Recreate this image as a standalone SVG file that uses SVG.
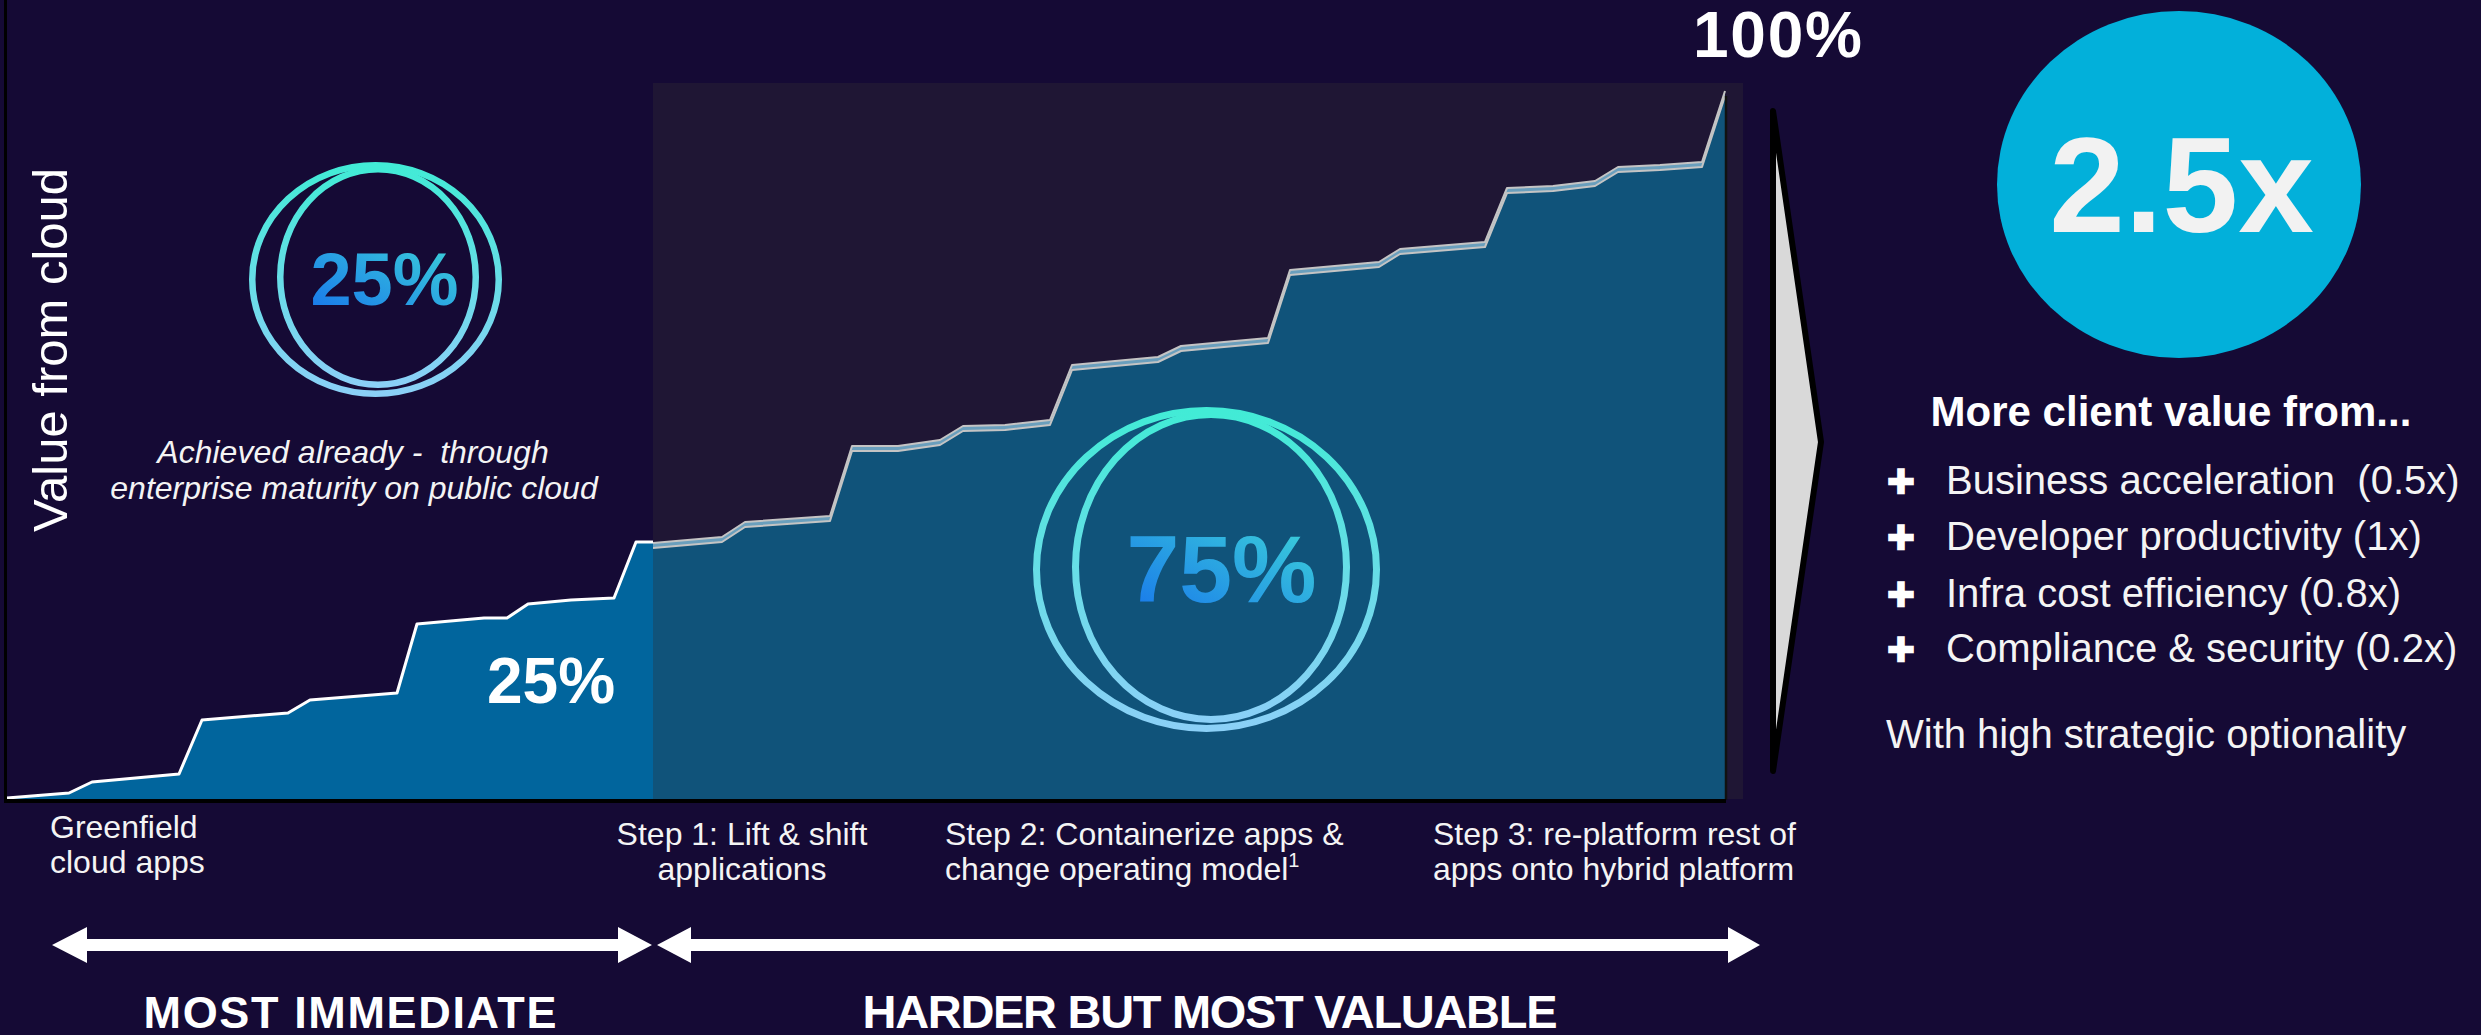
<svg xmlns="http://www.w3.org/2000/svg" width="2481" height="1035" viewBox="0 0 2481 1035">
  <defs>
    <linearGradient id="ringGrad" x1="0" y1="0" x2="0" y2="1">
      <stop offset="0" stop-color="#42ebd6"/>
      <stop offset="1" stop-color="#8bd0f7"/>
    </linearGradient>
    <linearGradient id="pctGrad" x1="0" y1="1" x2="1" y2="0">
      <stop offset="0" stop-color="#1672ec"/>
      <stop offset="1" stop-color="#3ed6d8"/>
    </linearGradient>
    <polyline id="upperLine" points="653,543 722,537 745,522 830,516 852,446 898,446 940,440 963,426 1005,425 1050,420 1072,365 1158,357 1181,346 1224,342 1268,338 1290,270 1379,262 1400,249 1485,242 1507,188 1553,186 1595,181 1618,167 1660,165 1702,162 1725,91"/>
    <style>
      text { font-family: "Liberation Sans", Arial, sans-serif; fill: #ffffff; }
      .bold { font-weight: bold; }
      .ring { fill: none; stroke: url(#ringGrad); }
      .lbl { font-size: 32px; fill: #f4f4f4; }
      .item { font-size: 40px; fill: #f4f4f4; }
      .plus { font-size: 46px; font-weight: bold; fill: #ffffff; stroke: #ffffff; stroke-width: 2.5; }
      .greyline { fill: none; stroke: #c4c4c4; stroke-width: 2; stroke-linejoin: round; }
      .arrow { fill: #ffffff; }
    </style>
  </defs>

  <!-- background -->
  <rect x="0" y="0" width="2481" height="1035" fill="#150a35"/>

  <!-- chart -->
  <g id="chart">
    <rect x="653" y="83" width="1090" height="716" fill="#1f1634"/>
    <polygon points="653,543 722,537 745,522 830,516 852,446 898,446 940,440 963,426 1005,425 1050,420 1072,365 1158,357 1181,346 1224,342 1268,338 1290,270 1379,262 1400,249 1485,242 1507,188 1553,186 1595,181 1618,167 1660,165 1702,162 1725,91 1725,799 653,799" fill="#6a9fbd"/>
    <polygon points="653,548 722,542 745,527 830,521 852,451 898,451 940,445 963,431 1005,430 1050,425 1072,370 1158,362 1181,351 1224,347 1268,343 1290,275 1379,267 1400,254 1485,247 1507,193 1553,191 1595,186 1618,172 1660,170 1702,167 1725,96 1725,799 653,799" fill="#10537a"/>
    <use href="#upperLine" class="greyline"/>
    <use href="#upperLine" class="greyline" transform="translate(0,5)"/>
    <line x1="1726" y1="96" x2="1726" y2="800" stroke="#111111" stroke-width="2.5"/>
    <polygon points="7,798 69,793 92,782 179,774 202,720 288,713 310,700 397,693 417,624 484,618 507,618 528,604 571,600 614,598 636,542 653,542 653,799 7,799" fill="#01659d"/>
    <polyline points="7,798 69,793 92,782 179,774 202,720 288,713 310,700 397,693 417,624 484,618 507,618 528,604 571,600 614,598 636,542 653,542" fill="none" stroke="#ffffff" stroke-width="3" stroke-linejoin="round"/>
    <line x1="5.5" y1="0" x2="5.5" y2="803" stroke="#000000" stroke-width="3"/>
    <rect x="4" y="799" width="1722" height="4" fill="#000000"/>
  </g>

  <!-- axis label -->
  <g id="axis-label">
    <text transform="translate(67,350) rotate(-90)" text-anchor="middle" font-size="49">Value from cloud</text>
  </g>

  <!-- 25% ring -->
  <g id="ring25">
    <ellipse class="ring" cx="375.5" cy="279.5" rx="123.25" ry="114.25" stroke-width="6.5"/>
    <ellipse class="ring" cx="378" cy="277" rx="97.75" ry="107.75" stroke-width="6.5"/>
    <text class="bold" x="384.5" y="305" text-anchor="middle" font-size="74" style="fill:url(#pctGrad)">25%</text>
  </g>

  <g id="achieved-note">
    <text xml:space="preserve" x="353" y="463" text-anchor="middle" font-size="32" font-style="italic" style="fill:#f4f4f4">Achieved already -  through</text>
    <text x="354" y="499" text-anchor="middle" font-size="32" font-style="italic" style="fill:#f4f4f4">enterprise maturity on public cloud</text>
  </g>

  <g id="label25">
    <text class="bold" x="551" y="703" text-anchor="middle" font-size="64">25%</text>
  </g>

  <!-- 75% ring -->
  <g id="ring75">
    <ellipse class="ring" cx="1206.5" cy="569.5" rx="170" ry="159" stroke-width="7"/>
    <ellipse class="ring" cx="1211" cy="567" rx="135.5" ry="152.5" stroke-width="7"/>
    <text class="bold" x="1221.5" y="602" text-anchor="middle" font-size="95" style="fill:url(#pctGrad)">75%</text>
  </g>

  <g id="label100">
    <text class="bold" x="1693" y="57" font-size="64" textLength="169">100%</text>
  </g>

  <!-- chevron -->
  <g id="chevron">
    <polygon points="1773,111 1821,442 1773,771" fill="#d9d9d9" stroke="#000000" stroke-width="6" stroke-linejoin="round"/>
  </g>

  <!-- 2.5x circle -->
  <g id="value-circle">
    <ellipse cx="2179" cy="184.5" rx="182" ry="173.5" fill="#02b0da"/>
    <text class="bold" x="2181.5" y="232" text-anchor="middle" font-size="136" style="fill:#f2f2f2">2.5x</text>
  </g>

  <!-- value list -->
  <g id="value-list">
    <text class="bold" x="2171" y="426" text-anchor="middle" font-size="42">More client value from...</text>
    <text class="plus" x="1901" y="497" text-anchor="middle">+</text>
    <text class="item" xml:space="preserve" x="1946" y="494">Business acceleration  (0.5x)</text>
    <text class="plus" x="1901" y="553" text-anchor="middle">+</text>
    <text class="item" x="1946" y="550">Developer productivity (1x)</text>
    <text class="plus" x="1901" y="610" text-anchor="middle">+</text>
    <text class="item" x="1946" y="607">Infra cost efficiency (0.8x)</text>
    <text class="plus" x="1901" y="665" text-anchor="middle">+</text>
    <text class="item" x="1946" y="662">Compliance &amp; security (0.2x)</text>
    <text class="item" x="1886" y="748">With high strategic optionality</text>
  </g>

  <!-- step labels -->
  <g id="label-greenfield">
    <text class="lbl" x="50" y="838">Greenfield</text>
    <text class="lbl" x="50" y="873">cloud apps</text>
  </g>
  <g id="label-step1">
    <text class="lbl" x="742" y="845" text-anchor="middle">Step 1: Lift &amp; shift</text>
    <text class="lbl" x="742" y="880" text-anchor="middle">applications</text>
  </g>
  <g id="label-step2">
    <text class="lbl" x="945" y="845">Step 2: Containerize apps &amp;</text>
    <text class="lbl" x="945" y="880">change operating model<tspan font-size="20" dy="-13">1</tspan></text>
  </g>
  <g id="label-step3">
    <text class="lbl" x="1433" y="845">Step 3: re-platform rest of</text>
    <text class="lbl" x="1433" y="880">apps onto hybrid platform</text>
  </g>

  <!-- connectors -->
  <g id="connectors">
    <polygon class="arrow" points="52,945 87,927 87,939 618,939 618,927 652,945 618,963 618,951 87,951 87,963"/>
    <polygon class="arrow" points="657,945 691,927 691,939 1728,939 1728,927 1760,945 1728,963 1728,951 691,951 691,963"/>
  </g>

  <g id="phase-labels">
    <text class="bold" x="350" y="1028" text-anchor="middle" font-size="45" textLength="413">MOST IMMEDIATE</text>
    <text class="bold" x="1210" y="1028" text-anchor="middle" font-size="47" textLength="695">HARDER BUT MOST VALUABLE</text>
  </g>
</svg>
